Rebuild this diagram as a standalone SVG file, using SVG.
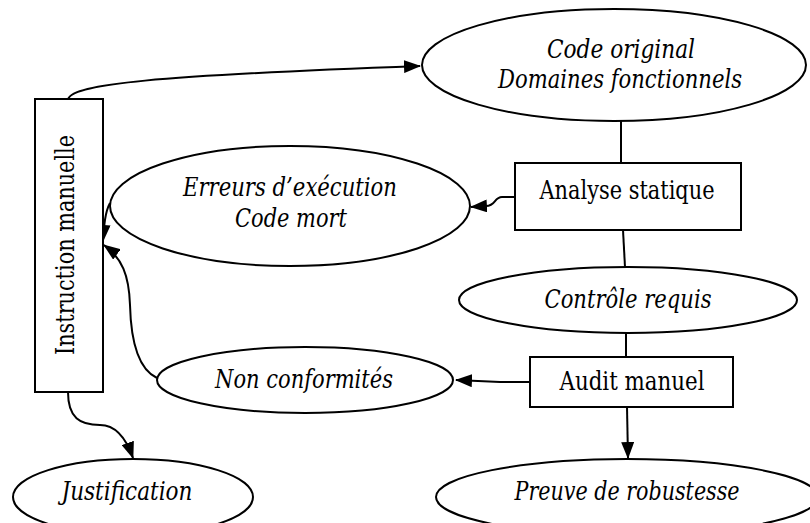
<svg xmlns="http://www.w3.org/2000/svg" width="810" height="523" viewBox="0 0 810 523">
  <style>
    .shape { fill: #ffffff; stroke: #000000; stroke-width: 2; }
    .edge { fill: none; stroke: #000000; stroke-width: 2; }
    text { font-family: 'DejaVu Serif', serif; font-size: 26px; fill: #000000; text-anchor: middle; }
    .it { font-style: italic; }
  </style>
  <defs>
    <marker id="arrow" viewBox="0 0 17 13" refX="16" refY="6.5" markerWidth="17" markerHeight="13" markerUnits="userSpaceOnUse" orient="auto">
      <path d="M0,0 L17,6.5 L0,13 Z" fill="#000000"/>
    </marker>
  </defs>

  <rect width="810" height="523" fill="#ffffff"/>

  <!-- connectors -->
  <g id="connectors">
    <path class="edge" d="M68,99 C74,84 150,76 420,66" marker-end="url(#arrow)"/>
    <line class="edge" x1="621" y1="121" x2="621" y2="163"/>
    <path class="edge" d="M515,197 L502,197 C494,197 496,206 486,206 L471,207" marker-end="url(#arrow)"/>
    <line class="edge" x1="623" y1="230" x2="625" y2="267"/>
    <line class="edge" x1="626" y1="333" x2="626" y2="357"/>
    <path class="edge" d="M110,203 C105,212 104,226 103,241" marker-end="url(#arrow)"/>
    <path class="edge" d="M157,378 C140,370 131,345 130,305 C129,275 122,258 104,245" marker-end="url(#arrow)"/>
    <path class="edge" d="M530,382 L500,382 L456,380" marker-end="url(#arrow)"/>
    <path class="edge" d="M627,407 L628,458" marker-end="url(#arrow)"/>
    <path class="edge" d="M68,392 C68,418 80,425 100,425 C116,425 126,438 133,458" marker-end="url(#arrow)"/>
  </g>

  <g id="instruction-manuelle">
    <rect class="shape" x="35" y="99" width="68" height="293"/>
    <text transform="translate(74,245) rotate(-90)" textLength="220" lengthAdjust="spacingAndGlyphs">Instruction manuelle</text>
  </g>

  <g id="code-original">
    <ellipse class="shape" cx="614" cy="65" rx="192" ry="56"/>
    <text class="it" x="621" y="58" textLength="148" lengthAdjust="spacingAndGlyphs">Code original</text>
    <text class="it" x="620" y="88" textLength="244" lengthAdjust="spacingAndGlyphs">Domaines fonctionnels</text>
  </g>

  <g id="analyse-statique">
    <rect class="shape" x="515" y="163" width="226" height="67"/>
    <text x="627" y="199" textLength="175" lengthAdjust="spacingAndGlyphs">Analyse statique</text>
  </g>

  <g id="erreurs">
    <ellipse class="shape" cx="290" cy="206" rx="180" ry="60"/>
    <text class="it" x="290" y="196" textLength="214" lengthAdjust="spacingAndGlyphs">Erreurs d’exécution</text>
    <text class="it" x="291" y="227" textLength="112" lengthAdjust="spacingAndGlyphs">Code mort</text>
  </g>

  <g id="controle-requis">
    <ellipse class="shape" cx="628" cy="300" rx="169" ry="33"/>
    <text class="it" x="628" y="308" textLength="167" lengthAdjust="spacingAndGlyphs">Contrôle requis</text>
  </g>

  <g id="audit-manuel">
    <rect class="shape" x="530" y="357" width="203" height="50"/>
    <text x="632" y="390" textLength="145" lengthAdjust="spacingAndGlyphs">Audit manuel</text>
  </g>

  <g id="non-conformites">
    <ellipse class="shape" cx="305" cy="380" rx="148" ry="33"/>
    <text class="it" x="304" y="388" textLength="178" lengthAdjust="spacingAndGlyphs">Non conformités</text>
  </g>

  <g id="justification">
    <ellipse class="shape" cx="133" cy="497" rx="120" ry="38"/>
    <text class="it" x="127" y="500" textLength="131" lengthAdjust="spacingAndGlyphs">Justification</text>
  </g>

  <g id="preuve-robustesse">
    <ellipse class="shape" cx="627" cy="497" rx="191" ry="38"/>
    <text class="it" x="627" y="500" textLength="225" lengthAdjust="spacingAndGlyphs">Preuve de robustesse</text>
  </g>
</svg>
